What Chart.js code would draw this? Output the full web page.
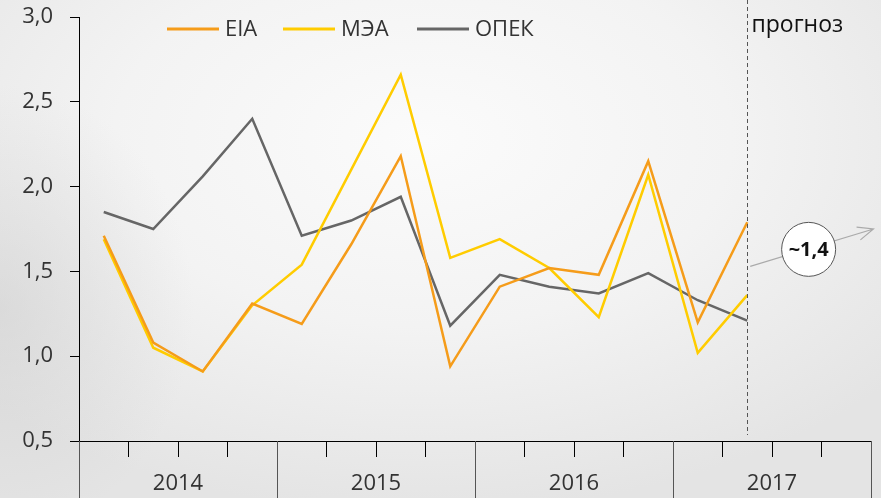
<!DOCTYPE html>
<html>
<head>
<meta charset="utf-8">
<script src="https://cdn.jsdelivr.net/npm/chart.js@4"></script>
<style>
  html, body { margin: 0; padding: 0; }
  body {
    width: 881px; height: 498px; overflow: hidden;
    background:
      radial-gradient(ellipse 22% 45% at 0% 62%, rgba(200,200,200,0.45) 0%, rgba(200,200,200,0) 100%),
      radial-gradient(ellipse 70% 75% at 48% 28%, #fbfbfb 0%, #f3f3f3 50%, #e4e4e4 100%);
  }
  canvas { display: block; }
</style>
</head>
<body>
<canvas id="myChart" width="881" height="498"></canvas>
<script>
// quarters 2014 Q1 .. 2017 Q4
const quarters = ['I 2014', 'II 2014', 'III 2014', 'IV 2014',
                  'I 2015', 'II 2015', 'III 2015', 'IV 2015',
                  'I 2016', 'II 2016', 'III 2016', 'IV 2016',
                  'I 2017', 'II 2017', 'III 2017', 'IV 2017'];
const years = ['2014', '2015', '2016', '2017'];
const yTicks = [0.5, 1.0, 1.5, 2.0, 2.5, 3.0];

const eia  = [1.71, 1.08, 0.91, 1.31, 1.19, 1.66, 2.18, 0.94, 1.41, 1.52, 1.48, 2.15, 1.20, 1.79];
const mea  = [1.69, 1.05, 0.91, 1.30, 1.54, 2.10, 2.66, 1.58, 1.69, 1.52, 1.23, 2.07, 1.02, 1.36];
const opec = [1.85, 1.75, 2.06, 2.40, 1.71, 1.80, 1.94, 1.18, 1.48, 1.41, 1.37, 1.49, 1.33, 1.21];

const seriesNames = ['EIA', 'МЭА', 'ОПЕК'];
const seriesColors = ['#f59c1a', '#ffcc00', '#666666'];

// forecast marker
const forecastIndex = 13;
const forecastLabel = 'прогноз';
const forecastValue = '~1,4';
const arrowFrom = [13.06, 1.53];
const arrowTo = [15.55, 1.75];
const bubbleAt = [14.24, 1.63];

const FONT = '"Open Sans", "Noto Sans", sans-serif';
const TEXT = '#333333';

const overlay = {
  id: 'overlay',
  afterDraw(chart) {
    let ctx = chart.ctx;
    let x = chart.scales.x, y = chart.scales.y;
    let area = chart.chartArea;
    let half = (x.getPixelForValue(1) - x.getPixelForValue(0)) / 2;

    // year dividers and labels
    ctx.save();
    ctx.strokeStyle = '#555555';
    ctx.lineWidth = 1;
    for (let i = 0; i <= years.length; i++) {
      let px = Math.round(x.getPixelForValue(i * 4) - half) + 0.5;
      ctx.beginPath();
      ctx.moveTo(px, area.bottom);
      ctx.lineTo(px, chart.height);
      ctx.stroke();
    }
    ctx.fillStyle = TEXT;
    ctx.font = '22px ' + FONT;
    ctx.textAlign = 'center';
    ctx.textBaseline = 'middle';
    for (let i = 0; i < years.length; i++) {
      let cx = (x.getPixelForValue(i * 4) + x.getPixelForValue(i * 4 + 3)) / 2;
      ctx.fillText(years[i], cx, 484);
    }

    // forecast dashed line
    let fx = Math.round(x.getPixelForValue(forecastIndex)) + 0.5;
    ctx.strokeStyle = '#555555';
    ctx.setLineDash([4, 3]);
    ctx.beginPath();
    ctx.moveTo(fx, 0);
    ctx.lineTo(fx, area.bottom - 6);
    ctx.stroke();
    ctx.setLineDash([]);
    ctx.textAlign = 'left';
    ctx.fillStyle = '#111111';
    ctx.font = '23px ' + FONT;
    ctx.fillText(forecastLabel, fx + 4, 25);

    // arrow
    let ax0 = x.getPixelForValue(arrowFrom[0]), ay0 = y.getPixelForValue(arrowFrom[1]);
    let ax1 = x.getPixelForValue(arrowTo[0]), ay1 = y.getPixelForValue(arrowTo[1]);
    ctx.strokeStyle = '#aaaaaa';
    ctx.lineWidth = 1.2;
    ctx.beginPath();
    ctx.moveTo(ax0, ay0);
    ctx.lineTo(ax1, ay1);
    let ang = Math.atan2(ay1 - ay0, ax1 - ax0);
    ctx.moveTo(ax1 - 17 * Math.cos(ang - 0.4), ay1 - 17 * Math.sin(ang - 0.4));
    ctx.lineTo(ax1, ay1);
    ctx.lineTo(ax1 - 17 * Math.cos(ang + 0.4), ay1 - 17 * Math.sin(ang + 0.4));
    ctx.stroke();

    // bubble
    let bx = x.getPixelForValue(bubbleAt[0]), by = y.getPixelForValue(bubbleAt[1]);
    ctx.beginPath();
    ctx.arc(bx, by, 27, 0, Math.PI * 2);
    ctx.fillStyle = '#ffffff';
    ctx.fill();
    ctx.strokeStyle = '#555555';
    ctx.lineWidth = 1;
    ctx.stroke();
    ctx.fillStyle = '#111111';
    ctx.font = 'bold 20px ' + FONT;
    ctx.textAlign = 'center';
    ctx.fillText(forecastValue, bx, by + 1);

    // legend
    let legendX = [167, 283, 417];
    ctx.font = '22px ' + FONT;
    ctx.textAlign = 'left';
    for (let i = 0; i < seriesNames.length; i++) {
      ctx.strokeStyle = seriesColors[i];
      ctx.lineWidth = 3;
      ctx.beginPath();
      ctx.moveTo(legendX[i], 29);
      ctx.lineTo(legendX[i] + 52, 29);
      ctx.stroke();
      ctx.fillStyle = TEXT;
      ctx.fillText(seriesNames[i], legendX[i] + 58, 30);
    }
    ctx.restore();
  }
};

let ctx = document.getElementById('myChart').getContext('2d');
let myChart = new Chart(ctx, {
  type: 'line',
  data: {
    labels: quarters,
    datasets: [
      { label: seriesNames[0], data: eia,  borderColor: seriesColors[0] },
      { label: seriesNames[1], data: mea,  borderColor: seriesColors[1] },
      { label: seriesNames[2], data: opec, borderColor: seriesColors[2] }
    ]
  },
  options: {
    responsive: false,
    animation: false,
    layout: { padding: { top: 17, right: 10, left: 0, bottom: 0 } },
    elements: {
      line: { borderWidth: 2.5, tension: 0, fill: false },
      point: { radius: 0, hoverRadius: 0 }
    },
    plugins: {
      legend: { display: false },
      tooltip: { enabled: false }
    },
    scales: {
      x: {
        type: 'category',
        offset: true,
        border: { display: true, color: '#000000', width: 1 },
        grid: { offset: true, drawOnChartArea: false, drawTicks: true, tickLength: 16, color: '#000000' },
        ticks: { display: false },
        afterFit: function (scale) {
          scale.height = 57;
          scale.paddingLeft = 0;
          scale.paddingRight = 0;
        }
      },
      y: {
        min: 0.5,
        max: 3.0,
        afterBuildTicks: function (scale) { scale.ticks = yTicks.map(v => ({ value: v })); },
        border: { display: true, color: '#000000', width: 1 },
        grid: { drawOnChartArea: false, drawTicks: true, tickLength: 9, color: '#000000' },
        ticks: {
          padding: 17,
          color: TEXT,
          font: { family: FONT, size: 22 },
          callback: function (v) { return v.toFixed(1).replace('.', ','); }
        },
        afterFit: function (scale) {
          scale.width = 79;
          scale.paddingTop = 0;
          scale.paddingBottom = 0;
        }
      }
    }
  },
  plugins: [overlay]
});
</script>
</body>
</html>
